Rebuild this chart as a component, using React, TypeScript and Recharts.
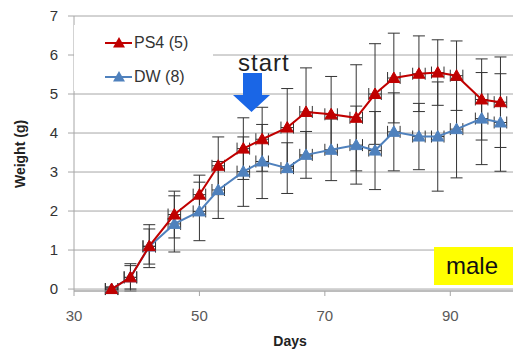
import React from "react";
import {
  ScatterChart,
  Scatter,
  XAxis,
  YAxis,
  ZAxis,
  CartesianGrid,
  ErrorBar,
} from "recharts";

// days of measurement
const days = [36, 39, 42, 46, 50, 53, 57, 60, 64, 67, 71, 75, 78, 81, 85, 88, 91, 95, 98];
const dayErr = [1, 1, 1, 1, 1, 1, 1, 1, 1, 1, 1, 1, 1, 1, 1, 1, 1, 1, 1];

// PS4 (n=5)
const ps4 = [0, 0.3, 1.1, 1.91, 2.42, 3.16, 3.6, 3.84, 4.14, 4.54, 4.48, 4.39, 5.0, 5.41, 5.52, 5.55, 5.47, 4.86, 4.79];
const ps4Err = [0.05, 0.35, 0.55, 0.6, 0.5, 0.74, 0.79, 0.82, 1.0, 1.13, 0.97, 1.36, 1.29, 1.15, 0.97, 0.84, 0.89, 1.04, 1.16];

// DW (n=8)
const dw = [0, 0.3, 1.09, 1.67, 1.99, 2.54, 3.01, 3.27, 3.1, 3.44, 3.57, 3.69, 3.55, 4.03, 3.91, 3.91, 4.1, 4.37, 4.27];
const dwErr = [0.05, 0.3, 0.45, 0.72, 0.75, 0.73, 0.89, 0.95, 0.65, 0.6, 0.79, 1.0, 1.0, 1.0, 0.85, 1.4, 1.25, 1.18, 1.25];

const xTicks = [30, 50, 70, 90];
const yTicks = [0, 1, 2, 3, 4, 5, 6, 7];

const RED = "#c00000";
const BLUE = "#4f81bd";
const FONT = "'Liberation Sans', Arial, sans-serif";

const ps4Data = days.map((d, i) => ({ x: d, y: ps4[i], ex: dayErr[i], ey: ps4Err[i] }));
const dwData = days.map((d, i) => ({ x: d, y: dw[i], ex: dayErr[i], ey: dwErr[i] }));

const triangle = (color: string) => (props: any) => {
  const { cx, cy } = props;
  if (cx == null || cy == null) return <g />;
  return (
    <polygon
      points={`${cx - 6},${cy + 4.5} ${cx + 6},${cy + 4.5} ${cx},${cy - 6}`}
      fill={color}
      stroke={color}
      strokeWidth={1}
    />
  );
};

const legendItems = [
  { name: "PS4 (5)", color: RED },
  { name: "DW (8)", color: BLUE },
];

const LegendBox = () => (
  <div style={{ position: "absolute", left: 74, top: 25, background: "#fff", width: 139, height: 66 }}>
    {legendItems.map((it, i) => (
      <div
        key={it.name}
        style={{
          position: "absolute",
          left: 31,
          top: 8 + i * 34,
          display: "flex",
          alignItems: "center",
          fontFamily: FONT,
          fontSize: 16,
          color: "#333",
        }}
      >
        <svg width={28} height={20}>
          <line x1={0} y1={10} x2={27} y2={10} stroke={it.color} strokeWidth={2} />
          <polygon points="8,14.5 20,14.5 14,4" fill={it.color} />
        </svg>
        <span style={{ marginLeft: 1 }}>{it.name}</span>
      </div>
    ))}
  </div>
);

export default function App() {
  return (
    <div style={{ position: "absolute", left: 0, top: 0, width: 513, height: 356, background: "#fff" }}>
      <ScatterChart width={513} height={356} margin={{ top: 16, right: 0, left: 0, bottom: 0 }}>
        <CartesianGrid vertical={false} stroke="#a6a6a6" />
        <XAxis
          type="number"
          dataKey="x"
          domain={[30, 100]}
          ticks={xTicks}
          height={65}
          tickSize={5}
          tickMargin={14}
          stroke="#a6a6a6"
          tick={{ fill: "#595959", fontSize: 15, fontFamily: FONT }}
          label={() => (
            <text x={290} y={346} textAnchor="middle" fontFamily={FONT} fontWeight="bold" fontSize={14} fill="#222">
              Days
            </text>
          )}
        />
        <YAxis
          type="number"
          dataKey="y"
          domain={[0, 7]}
          ticks={yTicks}
          width={74}
          tickSize={6}
          tickMargin={10}
          stroke="#a6a6a6"
          tick={{ fill: "#333", fontSize: 15, fontFamily: FONT }}
          label={() => (
            <text
              x={25}
              y={154}
              transform="rotate(-90 25 154)"
              textAnchor="middle"
              fontFamily={FONT}
              fontWeight="bold"
              fontSize={14}
              fill="#222"
            >
              Weight (g)
            </text>
          )}
        />
        <ZAxis range={[70, 70]} />
        <Scatter
          name="DW (8)"
          data={dwData}
          line={{ stroke: BLUE, strokeWidth: 2 }}
          shape={triangle(BLUE)}
          isAnimationActive={false}
        >
          <ErrorBar dataKey="ey" direction="y" width={6} stroke="#333" strokeWidth={1} isAnimationActive={false} />
          <ErrorBar dataKey="ex" direction="x" width={6} stroke="#333" strokeWidth={1} isAnimationActive={false} />
        </Scatter>
        <Scatter
          name="PS4 (5)"
          data={ps4Data}
          line={{ stroke: RED, strokeWidth: 2 }}
          shape={triangle(RED)}
          isAnimationActive={false}
        >
          <ErrorBar dataKey="ey" direction="y" width={6} stroke="#333" strokeWidth={1} isAnimationActive={false} />
          <ErrorBar dataKey="ex" direction="x" width={6} stroke="#333" strokeWidth={1} isAnimationActive={false} />
        </Scatter>
      </ScatterChart>

      <LegendBox />

      {/* annotation: treatment start */}
      <div style={{ position: "absolute", left: 238, top: 49, fontFamily: FONT, fontSize: 24, letterSpacing: 1, color: "#222" }}>
        start
      </div>
      <svg style={{ position: "absolute", left: 0, top: 0 }} width={513} height={356} pointerEvents="none">
        <polygon points="243,73 262,73 262,95 270,95 251.5,112 233,95 243,95" fill="#1a66e6" />
      </svg>

      <div
        style={{
          position: "absolute",
          left: 434,
          top: 247,
          width: 79,
          height: 38,
          background: "#ffff00",
          fontFamily: FONT,
          fontSize: 24,
          color: "#111",
          lineHeight: "38px",
          paddingLeft: 12,
          boxSizing: "border-box",
        }}
      >
        male
      </div>
    </div>
  );
}
